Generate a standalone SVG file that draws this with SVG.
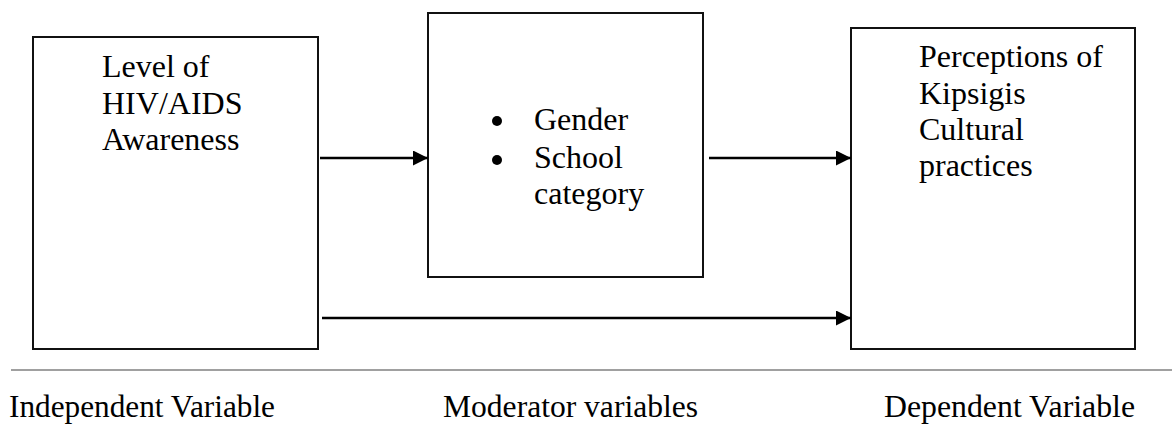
<svg xmlns="http://www.w3.org/2000/svg" width="1172" height="424" viewBox="0 0 1172 424">
<defs>
<style>
.box{fill:#fff;stroke:#111;stroke-width:2}
.t{font-family:"Liberation Serif","Times New Roman",serif;font-size:32px;fill:#000}
.conn{stroke:#000;stroke-width:2.5;fill:none}
</style>
<marker id="ah" markerWidth="16" markerHeight="16" refX="15" refY="7.5" markerUnits="userSpaceOnUse" orient="auto">
<path d="M0,0 L15,7.5 L0,15 Z" fill="#000"/>
</marker>
</defs>
<rect width="1172" height="424" fill="#fff"/>
<g id="independent">
<rect class="box" x="33" y="37" width="285" height="312"/>
<text class="t" x="102" y="77">Level of</text>
<text class="t" x="102" y="114">HIV/AIDS</text>
<text class="t" x="102" y="150">Awareness</text>
</g>
<g id="moderator">
<rect class="box" x="428" y="13" width="275" height="264"/>
<circle cx="497" cy="121" r="5"/>
<circle cx="497" cy="160" r="5"/>
<text class="t" x="534" y="130">Gender</text>
<text class="t" x="534" y="168">School</text>
<text class="t" x="534" y="204">category</text>
</g>
<g id="dependent">
<rect class="box" x="851" y="28" width="284" height="321"/>
<text class="t" x="919" y="67">Perceptions of</text>
<text class="t" x="919" y="104">Kipsigis</text>
<text class="t" x="919" y="140">Cultural</text>
<text class="t" x="919" y="176">practices</text>
</g>
<g id="connectors">
<line class="conn" x1="320" y1="158" x2="428" y2="158" marker-end="url(#ah)"/>
<line class="conn" x1="709" y1="158" x2="851" y2="158" marker-end="url(#ah)"/>
<line class="conn" x1="322" y1="318" x2="851" y2="318" marker-end="url(#ah)"/>
</g>
<line x1="11" y1="370" x2="1172" y2="370" stroke="#a0a0a0" stroke-width="2"/>
<g id="labels">
<text class="t" x="9" y="417" textLength="266" lengthAdjust="spacingAndGlyphs">Independent Variable</text>
<text class="t" x="443" y="417" textLength="255" lengthAdjust="spacingAndGlyphs">Moderator variables</text>
<text class="t" x="884" y="417" textLength="251" lengthAdjust="spacingAndGlyphs">Dependent Variable</text>
</g>
</svg>
